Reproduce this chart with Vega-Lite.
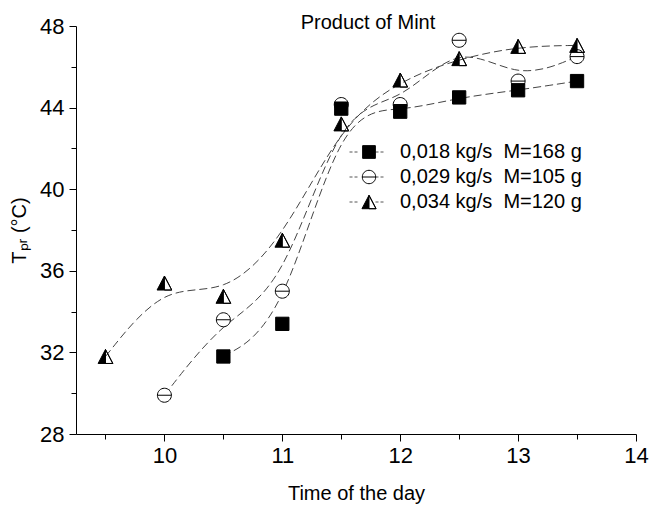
{
  "$schema": "https://vega.github.io/schema/vega-lite/v6.json",
  "autosize": "none",
  "width": 560,
  "height": 408,
  "padding": {"left": 76, "top": 26, "right": 14, "bottom": 77},
  "background": "white",
  "config": {
    "font": "Liberation Sans",
    "view": {"stroke": null},
    "axis": {"grid": false, "domainColor": "black", "tickColor": "black", "labelColor": "black", "titleColor": "black", "titleFontWeight": "normal", "labelFont": "Liberation Sans", "titleFont": "Liberation Sans"},
    "legend": {"symbolStrokeWidth": 1, "labelColor": "black"}
  },
  "title": {"text": "Product of Mint", "fontSize": 20, "fontWeight": "normal", "font": "Liberation Sans", "color": "black", "frame": "group", "offset": -34, "baseline": "alphabetic", "dx": 12},
  "datasets": {
    "pts": [
      {"series": "0,029 kg/s\u00a0 M=105 g", "time": 10.0, "temp": 29.9},
      {"series": "0,029 kg/s\u00a0 M=105 g", "time": 10.5, "temp": 33.6},
      {"series": "0,029 kg/s\u00a0 M=105 g", "time": 11.0, "temp": 35.0},
      {"series": "0,029 kg/s\u00a0 M=105 g", "time": 11.5, "temp": 44.15},
      {"series": "0,029 kg/s\u00a0 M=105 g", "time": 12.0, "temp": 44.15},
      {"series": "0,029 kg/s\u00a0 M=105 g", "time": 12.5, "temp": 47.3},
      {"series": "0,029 kg/s\u00a0 M=105 g", "time": 13.0, "temp": 45.3},
      {"series": "0,029 kg/s\u00a0 M=105 g", "time": 13.5, "temp": 46.5},
      {"series": "0,018 kg/s\u00a0 M=168 g", "time": 10.5, "temp": 31.8},
      {"series": "0,018 kg/s\u00a0 M=168 g", "time": 11.0, "temp": 33.4},
      {"series": "0,018 kg/s\u00a0 M=168 g", "time": 11.5, "temp": 43.95},
      {"series": "0,018 kg/s\u00a0 M=168 g", "time": 12.0, "temp": 43.8},
      {"series": "0,018 kg/s\u00a0 M=168 g", "time": 12.5, "temp": 44.5},
      {"series": "0,018 kg/s\u00a0 M=168 g", "time": 13.0, "temp": 44.85},
      {"series": "0,018 kg/s\u00a0 M=168 g", "time": 13.5, "temp": 45.3},
      {"series": "0,034 kg/s\u00a0 M=120 g", "time": 9.5, "temp": 31.8},
      {"series": "0,034 kg/s\u00a0 M=120 g", "time": 10.0, "temp": 35.4},
      {"series": "0,034 kg/s\u00a0 M=120 g", "time": 10.5, "temp": 34.75},
      {"series": "0,034 kg/s\u00a0 M=120 g", "time": 11.0, "temp": 37.5},
      {"series": "0,034 kg/s\u00a0 M=120 g", "time": 11.5, "temp": 43.2},
      {"series": "0,034 kg/s\u00a0 M=120 g", "time": 12.0, "temp": 45.35},
      {"series": "0,034 kg/s\u00a0 M=120 g", "time": 12.5, "temp": 46.4},
      {"series": "0,034 kg/s\u00a0 M=120 g", "time": 13.0, "temp": 47.0},
      {"series": "0,034 kg/s\u00a0 M=120 g", "time": 13.5, "temp": 47.05}
    ]
  },
  "data": {"name": "pts"},
  "encoding": {
    "x": {
      "field": "time", "type": "quantitative",
      "scale": {"domain": [9.25, 14], "nice": false, "zero": false},
      "axis": {
        "title": "Time of the day", "titleFontSize": 20, "titlePadding": 17,
        "values": [9.5, 10, 10.5, 11, 11.5, 12, 12.5, 13, 13.5, 14],
        "labelExpr": "datum.value % 1 === 0 ? format(datum.value, 'd') : ''",
        "labelFontSize": 22, "labelPadding": 4, "labelFlush": false, "labelOverlap": false,
        "tickSize": {"condition": {"test": "datum.value % 1 === 0", "value": 7}, "value": 5}
      }
    },
    "y": {
      "field": "temp", "type": "quantitative",
      "scale": {"domain": [28, 48], "nice": false, "zero": false},
      "axis": {
        "title": "Tₚᵣ (°C)", "titleFontSize": 20, "titlePadding": 10,
        "values": [28, 30, 32, 34, 36, 38, 40, 42, 44, 46, 48],
        "labelExpr": "datum.value % 4 === 0 ? format(datum.value, 'd') : ''",
        "labelFontSize": 22, "labelPadding": 5, "labelFlush": false, "labelOverlap": false,
        "tickSize": {"condition": {"test": "datum.value % 4 === 0", "value": 7}, "value": 5}
      }
    }
  },
  "layer": [
    {
      "mark": {"type": "line", "interpolate": "basis", "stroke": "#444444", "strokeWidth": 1, "strokeDash": [8, 4]},
      "encoding": {"detail": {"field": "series", "type": "nominal"}}
    },
    {
      "transform": [{"filter": "datum.time === 13.5"}],
      "mark": {"type": "line", "stroke": "#555555", "strokeWidth": 1},
      "encoding": {
        "strokeDash": {
          "field": "series", "type": "nominal",
          "scale": {"range": [[3, 2, 3, 18, 3, 2, 3, 100], [3, 2, 3, 18, 3, 2, 3, 100], [3, 2, 3, 18, 3, 2, 3, 100]]},
          "legend": {
            "title": null, "orient": "none", "legendX": 273, "legendY": 116, "padding": 0,
            "labelExpr": "''", "labelFontSize": 20, "symbolSize": 1156, "symbolStrokeWidth": 1, "symbolStrokeColor": "#555555",
            "rowPadding": 5, "clipHeight": 20
          }
        }
      }
    },
    {
      "mark": {"type": "point", "size": 196, "strokeWidth": 1, "opacity": 1, "fillOpacity": 1, "strokeOpacity": 1},
      "encoding": {
        "shape": {
          "field": "series", "type": "nominal",
          "scale": {
            "domain": ["0,018 kg/s\u00a0 M=168 g", "0,029 kg/s\u00a0 M=105 g", "0,034 kg/s\u00a0 M=120 g"],
            "range": ["M-0.95,-0.95L0.95,-0.95L0.95,0.95L-0.95,0.95Z", "M-1,0A1,1,0,1,0,1,0A1,1,0,1,0,-1,0ZM-1,0L1,0", "M0,-1L1.05,1L-1.05,1ZM0,-1L0,1L1.05,1Z"]
          },
          "legend": {
            "title": null, "orient": "none", "legendX": 283, "legendY": 116, "padding": 0,
            "labelFontSize": 20, "labelFont": "Liberation Sans", "labelColor": "black", "labelOffset": 21, "labelLimit": 400,
            "symbolSize": 180, "symbolStrokeWidth": 1, "rowPadding": 5, "clipHeight": 20
          }
        },
        "fill": {
          "field": "series", "type": "nominal",
          "scale": {
            "domain": ["0,018 kg/s\u00a0 M=168 g", "0,029 kg/s\u00a0 M=105 g", "0,034 kg/s\u00a0 M=120 g"],
            "range": ["black", "white", "black"]
          }
        },
        "stroke": {
          "field": "series", "type": "nominal",
          "scale": {
            "domain": ["0,018 kg/s\u00a0 M=168 g", "0,029 kg/s\u00a0 M=105 g", "0,034 kg/s\u00a0 M=120 g"],
            "range": ["black", "black", "black"]
          }
        }
      }
    }
  ]
}
